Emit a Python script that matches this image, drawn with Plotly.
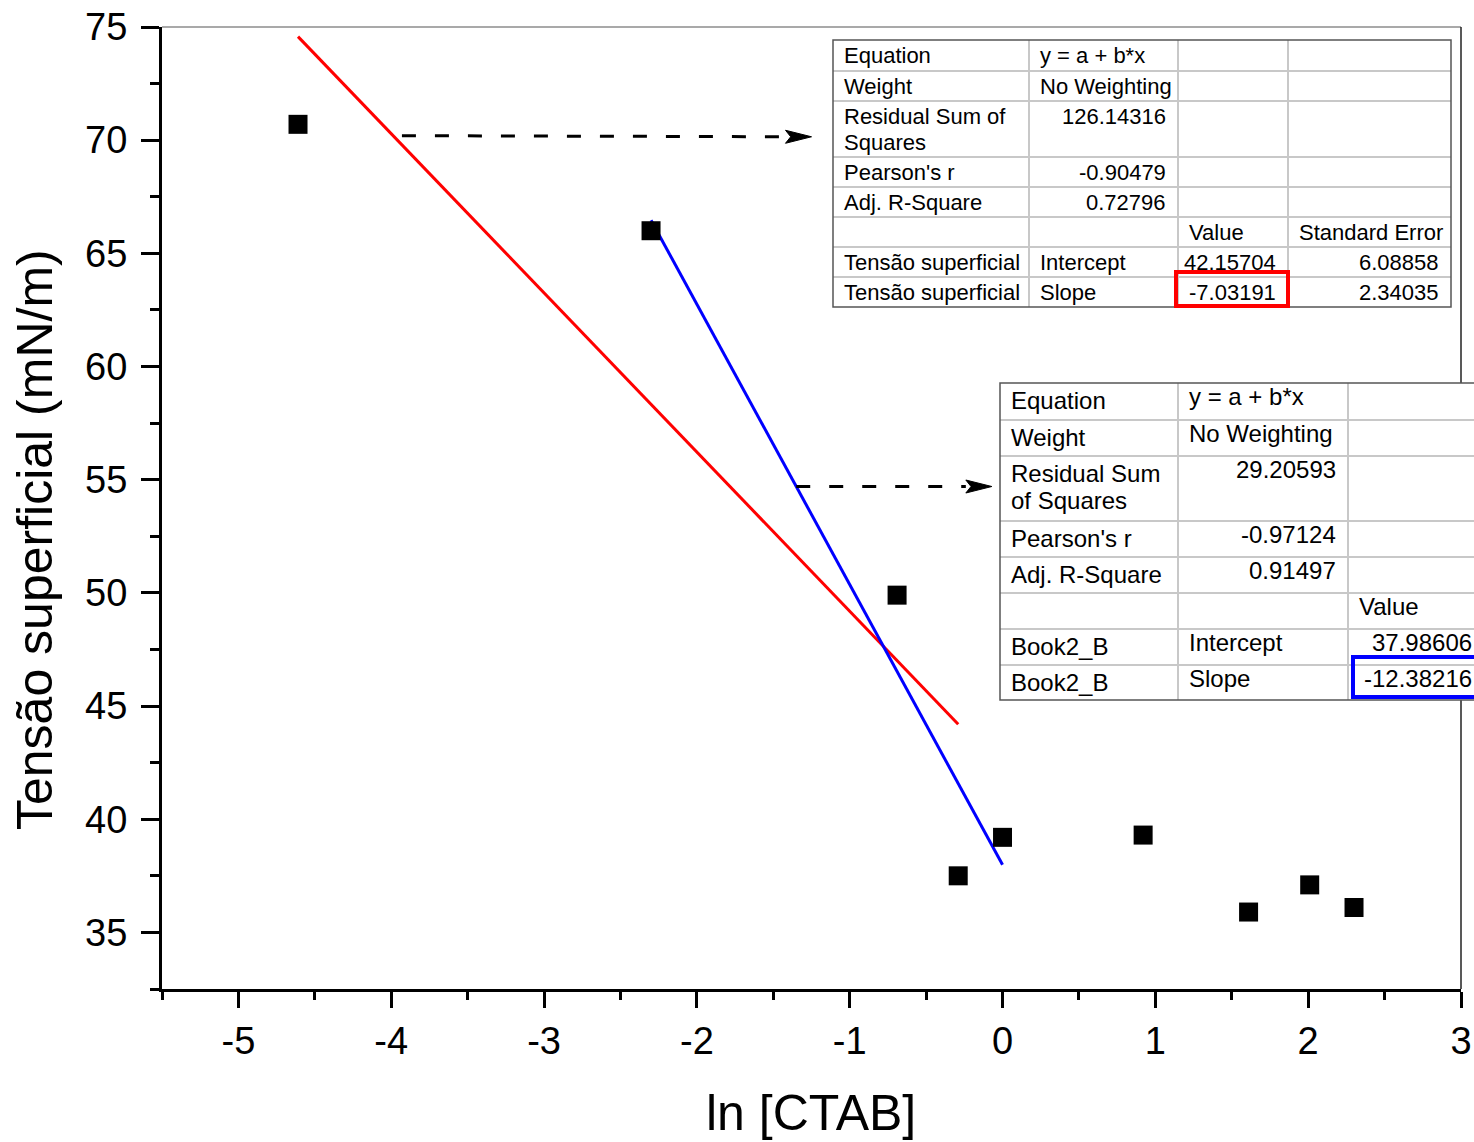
import plotly.graph_objects as go

# ---------------- data ----------------
ln_ctab = [-4.61, -2.30, -0.69, -0.29, 0.00, 0.92, 1.61, 2.01, 2.30]
tension = [70.7, 66.0, 49.9, 37.5, 39.2, 39.3, 35.9, 37.1, 36.1]

# linear fits (Origin results)
fit_red_intercept, fit_red_slope = 42.15704, -7.03191
fit_red_x = [-4.61, -0.29]
fit_blue_intercept, fit_blue_slope = 37.98606, -12.38216
fit_blue_x = [-2.30, 0.00]

x_ticks = [-5, -4, -3, -2, -1, 0, 1, 2, 3]
y_ticks = [35, 40, 45, 50, 55, 60, 65, 70, 75]

table1_rows = [
    ["Equation", "y = a + b*x", "", ""],
    ["Weight", "No Weighting", "", ""],
    [["Residual Sum of", "Squares"], "126.14316", "", ""],
    ["Pearson's r", "-0.90479", "", ""],
    ["Adj. R-Square", "0.72796", "", ""],
    ["", "", "Value", "Standard Error"],
    ["Tensão superficial", "Intercept", "42.15704", "6.08858"],
    ["Tensão superficial", "Slope", "-7.03191", "2.34035"],
]
table2_rows = [
    ["Equation", "y = a + b*x", ""],
    ["Weight", "No Weighting", ""],
    [["Residual Sum", "of Squares"], "29.20593", ""],
    ["Pearson's r", "-0.97124", ""],
    ["Adj. R-Square", "0.91497", ""],
    ["", "", "Value"],
    ["Book2_B", "Intercept", "37.98606"],
    ["Book2_B", "Slope", "-12.38216"],
]

# ---------------- layout geometry (viewport pixels) ----------------
W, H = 1474, 1142
L, R, T, B = 162, 1461, 27, 989
FONT = "Liberation Sans, Arial, sans-serif"


def px(x):
    return (x - L) / (R - L)


def py(y):
    return (B - y) / (B - T)


XPU = (R - L) / 8.5          # pixels per x unit
YPU = (B - T) / 42.5         # pixels per y unit

fig = go.Figure()

fig.add_trace(go.Scatter(
    x=fit_red_x, y=[fit_red_intercept + fit_red_slope * v for v in fit_red_x],
    mode="lines", line=dict(color="#ff0000", width=3), showlegend=False))
fig.add_trace(go.Scatter(
    x=fit_blue_x, y=[fit_blue_intercept + fit_blue_slope * v for v in fit_blue_x],
    mode="lines", line=dict(color="#0000ff", width=3), showlegend=False))
fig.add_trace(go.Scatter(
    x=ln_ctab, y=tension, mode="markers",
    marker=dict(symbol="square", size=19, color="black", line=dict(width=0)),
    showlegend=False))

shapes = []
annotations = []

# thin top and right frame lines
shapes.append(dict(type="line", xref="paper", yref="paper", x0=0, x1=1, y0=1, y1=1,
                   line=dict(color="#555555", width=1.2), layer="above"))
shapes.append(dict(type="line", xref="paper", yref="paper", x0=1, x1=1, y0=0, y1=1,
                   line=dict(color="#222222", width=1.5), layer="above"))

# dashed arrows (data coordinates)
arrows = [((-3.93, 70.2), (-1.25, 70.15)), ((-1.35, 54.7), (-0.07, 54.7))]
hl = 26 / XPU
hw = 6.5 / YPU
for (x0, y0), (x1, y1) in arrows:
    shapes.append(dict(type="line", xref="x", yref="y", x0=x0, y0=y0, x1=x1 - hl, y1=y1,
                       line=dict(color="black", width=3, dash="14px,19px"), layer="above"))
    shapes.append(dict(type="path", xref="x", yref="y",
                       path=f"M {x1},{y1} L {x1 - hl},{y1 + hw} L {x1 - hl * 0.8},{y1} "
                            f"L {x1 - hl},{y1 - hw} Z",
                       fillcolor="black", line=dict(color="black", width=1), layer="above"))


def draw_table(rows, cols, rowlines, texts_cfg, fsize, lstep):
    x0, x1 = cols[0], cols[-1]
    y0, y1 = rowlines[0], rowlines[-1]
    shapes.append(dict(type="rect", xref="paper", yref="paper",
                       x0=px(x0), x1=px(x1), y0=py(y1), y1=py(y0),
                       fillcolor="white", line=dict(width=0), layer="above"))
    for c in cols[1:-1]:
        shapes.append(dict(type="line", xref="paper", yref="paper", x0=px(c), x1=px(c),
                           y0=py(y1), y1=py(y0), line=dict(color="#c8c8c8", width=2),
                           layer="above"))
    for r in rowlines[1:-1]:
        shapes.append(dict(type="line", xref="paper", yref="paper", x0=px(x0), x1=px(x1),
                           y0=py(r), y1=py(r), line=dict(color="#c8c8c8", width=2),
                           layer="above"))
    shapes.append(dict(type="rect", xref="paper", yref="paper",
                       x0=px(x0), x1=px(x1), y0=py(y1), y1=py(y0),
                       line=dict(color="#555555", width=1.5), layer="above"))
    for ri, row in enumerate(rows):
        for ci, cell in enumerate(row):
            if not cell:
                continue
            lines = cell if isinstance(cell, list) else [cell]
            align, dy = texts_cfg(ri, ci, lines[0])
            top = rowlines[ri]
            if align == "left":
                xx = px(cols[ci] + 9)
            else:
                xx = px(cols[ci + 1] - 10)
            for li, txt in enumerate(lines):
                annotations.append(dict(x=xx, y=py(top + dy + li * lstep), xref="paper",
                                        yref="paper", text=txt, showarrow=False,
                                        xanchor=align, yanchor="top", align="left",
                                        font=dict(family=FONT, size=fsize, color="black")))


def cfg1(ri, ci, txt):
    numeric = txt[0].isdigit() or txt[0] == "-"
    if numeric:
        return "right", 1
    return "left", 1


draw_table(table1_rows, [833, 1029, 1178, 1288, 1451],
           [40, 71, 101, 157, 187, 217, 247, 277, 307], cfg1, 22, 26)


def cfg2(ri, ci, txt):
    numeric = txt[0].isdigit() or txt[0] == "-"
    if numeric:
        return "right", -2
    if ci == 0:
        return "left", 2
    return "left", -2


draw_table(table2_rows, [1000, 1178, 1348, 1484],
           [383, 420, 456, 521, 557, 593, 629, 665, 700], cfg2, 24, 27)

# highlight boxes
shapes.append(dict(type="rect", xref="paper", yref="paper", x0=px(1353), x1=px(1490),
                   y0=py(697), y1=py(657), line=dict(color="#0000ff", width=4), layer="above"))
shapes.append(dict(type="rect", xref="paper", yref="paper", x0=px(1176), x1=px(1288),
                   y0=py(306), y1=py(272), line=dict(color="#ff0000", width=4), layer="above"))

# axis titles
annotations.append(dict(x=px(811), y=py(1113), xref="paper", yref="paper",
                        text="ln [CTAB]", showarrow=False, xanchor="center", yanchor="middle",
                        font=dict(family=FONT, size=50, color="black")))
annotations.append(dict(x=px(35), y=py(540), xref="paper", yref="paper",
                        text="Tensão superficial (mN/m)", showarrow=False, textangle=-90,
                        xanchor="center", yanchor="middle",
                        font=dict(family=FONT, size=50, color="black")))

fig.update_layout(
    width=W, height=H,
    margin=dict(l=L, r=W - R, t=T, b=H - B, autoexpand=False),
    paper_bgcolor="white", plot_bgcolor="white",
    shapes=shapes, annotations=annotations,
    font=dict(family=FONT, color="black"),
    xaxis=dict(range=[-5.5, 3], tickvals=x_ticks, ticktext=[str(v) for v in x_ticks],
               automargin=False,
               showgrid=False, zeroline=False, showline=True, linecolor="black", linewidth=3,
               ticks="outside", ticklen=16, tickwidth=3, tickcolor="black",
               tickfont=dict(family=FONT, size=38, color="black"),
               minor=dict(tickvals=[-5.5 + 0.5 * i for i in range(18)], ticks="outside",
                          ticklen=8, tickwidth=3, tickcolor="black", showgrid=False),
               ticklabelstandoff=0, ticklabeloverflow="allow"),
    yaxis=dict(range=[32.5, 75], tickvals=y_ticks, ticktext=[str(v) for v in y_ticks],
               automargin=False,
               showgrid=False, zeroline=False, showline=True, linecolor="black", linewidth=3,
               ticks="outside", ticklen=18, tickwidth=3, tickcolor="black",
               tickfont=dict(family=FONT, size=38, color="black"),
               minor=dict(tickvals=[32.5 + 2.5 * i for i in range(18)], ticks="outside",
                          ticklen=9, tickwidth=3, tickcolor="black", showgrid=False),
               ticklabelstandoff=6, ticklabeloverflow="allow"),
)

fig.write_html("out.html", config={"displayModeBar": False},
               post_script="document.body.style.margin='0px';"
                           "document.body.style.overflow='hidden';")
